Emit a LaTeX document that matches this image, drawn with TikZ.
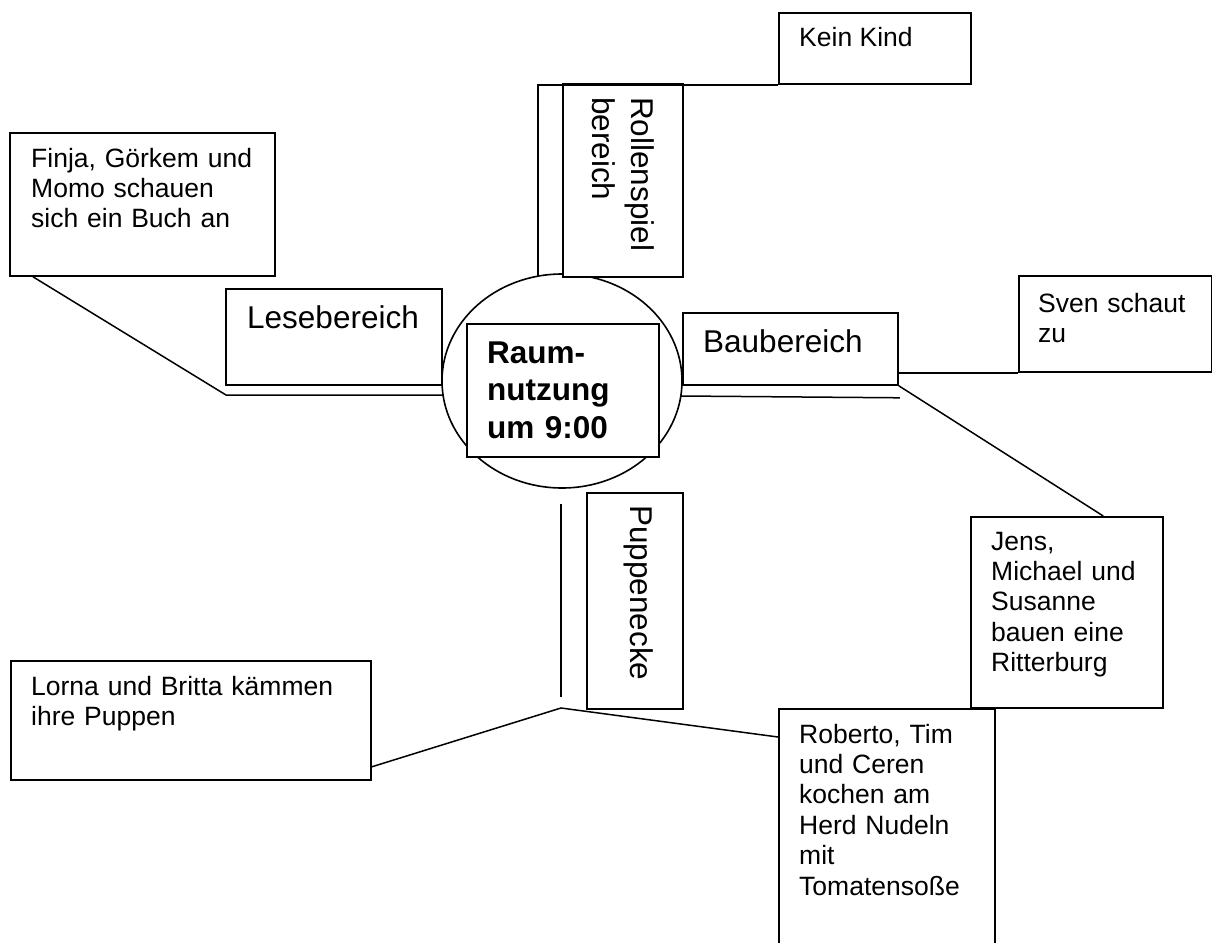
\documentclass[tikz,border=0pt]{standalone}
\usepackage{fontspec}
\setmainfont{Liberation Sans}
\usetikzlibrary{shapes.geometric,calc}
\begin{document}
\begin{tikzpicture}[x=1pt,y=-1pt,
  box/.style={draw, line width=1.8pt, fill=white, inner sep=0pt, anchor=north west},
  conn/.style={line width=1.5pt},
  small/.style={font=\fontsize{26.5}{30.4}\selectfont, inner sep=0pt, anchor=base west, align=left},
  big/.style={font=\fontsize{31.5}{38}\selectfont, inner sep=0pt, anchor=base west, align=left}]
\useasboundingbox (0,0) rectangle (1212,942);
\clip (0,0) rectangle (1212,942);

% centre
\node[draw, ellipse, line width=1.6pt, minimum width=240pt, minimum height=214pt, inner sep=0pt] (ell) at (562,381) {};
\node[box, minimum width=192pt, minimum height=133pt] (center) at (466,323) {};
\node[font=\bfseries\fontsize{31.5}{37.5}\selectfont, inner sep=0pt, anchor=base west, align=left, text width=170pt] (tcenter) at (487,363) {Raum-\\nutzung\\um 9:00};

% boxes
\node[box, minimum width=265pt, minimum height=143pt] (finja) at (9,132) {};
\node[box, minimum width=216pt, minimum height=96pt] (lese) at (225,288) {};
\node[box, minimum width=120pt, minimum height=193pt] (rolle) at (562,83) {};
\node[box, minimum width=192pt, minimum height=71pt] (kein) at (778,12) {};
\node[box, minimum width=215pt, minimum height=72pt] (bau) at (682,312) {};
\node[box, minimum width=193pt, minimum height=96pt] (sven) at (1018,275) {};
\node[box, minimum width=192pt, minimum height=191pt] (jens) at (970,516) {};
\node[box, minimum width=96pt, minimum height=216pt] (puppe) at (586,492) {};
\node[box, minimum width=360pt, minimum height=119pt] (lorna) at (10,660) {};
\node[box, minimum width=216pt, minimum height=260pt] (roberto) at (778,708) {};

% texts
\node[small, text width=230pt] (tfinja) at (31,167) {Finja, Görkem und\\Momo schauen\\sich ein Buch an};
\node[big] (tlese) at (247,328) {Lesebereich};
\node[big, rotate=-90, text width=170pt, font=\fontsize{31.5}{39}\selectfont] (trolle) at (631,97) {Rollenspiel\\bereich};
\node[small] (tkein) at (799,47) {Kein Kind};
\node[big] (tbau) at (703,352) {Baubereich};
\node[small, text width=165pt] (tsven) at (1038,312) {Sven schaut\\zu};
\node[small, text width=165pt] (tjens) at (991,550) {Jens,\\Michael und\\Susanne\\bauen eine\\Ritterburg};
\node[big, rotate=-90] (tpuppe) at (630,505) {Puppenecke};
\node[small, text width=320pt] (tlorna) at (31,695) {Lorna und Britta kämmen\\ihre Puppen};
\node[small, text width=185pt] (trob) at (799,743) {Roberto, Tim\\und Ceren\\kochen am\\Herd Nudeln\\mit\\Tomatensoße};

% junction coordinates
\coordinate (jl) at (226,395);
\coordinate (ellL) at (443,395);
\coordinate (ellT) at (538,276);
\coordinate (ellR) at (681,396);
\coordinate (pTop) at (561,504);
\coordinate (pBot) at (561,697);
\coordinate (pFork) at (561,708);

% connectors
\draw[conn] ($(finja.south west)+(24,0)$) -- (jl) -- (ellL);
\draw[conn] (ellT) |- (kein.south west);
\draw[conn] (ellR) -- ($(bau.south east)+(1,12)$);
\draw[conn] (bau.east |- sven.south west) -- (sven.south west);
\draw[conn] (bau.south east) -- ($(jens.north west)!0.6875!(jens.north east)$);
\draw[conn] (pTop) -- (pBot);
\draw[conn] ($(lorna.south east)+(0,-14)$) -- (pFork) -- ($(roberto.north west)+(0,29)$);
\end{tikzpicture}
\end{document}
